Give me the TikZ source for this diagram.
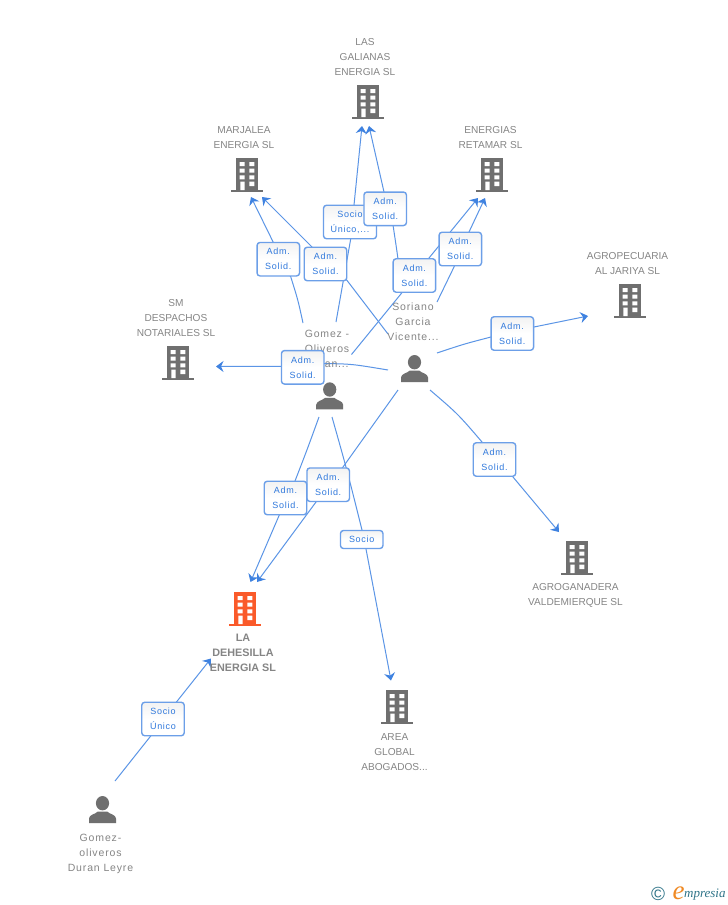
\documentclass[tikz,border=0pt]{standalone}
\usepackage{fontspec}
\setmainfont{Liberation Sans}
\newfontfamily\boxfont[LetterSpace=8]{Liberation Sans}
\newfontfamily\mixfont[LetterSpace=8]{Liberation Sans}
\newfontfamily\logofont{Liberation Serif}
\usetikzlibrary{arrows.meta}
\pgfdeclarelayer{bg}
\pgfsetlayers{bg,main}
\definecolor{iconGrey}{HTML}{6F6F6F}
\definecolor{iconOrange}{HTML}{FA5A2A}
\definecolor{txtGrey}{HTML}{858585}
\definecolor{linkBlue}{HTML}{5B95E6}
\definecolor{tipBlue}{HTML}{3F82E0}
\definecolor{boxEdge}{HTML}{6C9FE8}
\definecolor{boxText}{HTML}{2F78DC}
\definecolor{logoTeal}{HTML}{2F7488}
\definecolor{logoOrange}{HTML}{F08A24}
\tikzset{
  iconspot/.style={inner sep=0pt,outer sep=0pt},
  caption/.style={inner sep=0pt,align=center,text=txtGrey,font=\fontsize{10.1}{15}\selectfont},
  mixcaption/.style={caption,font=\mixfont\fontsize{10.5}{15}\selectfont},
  boldcaption/.style={caption,font=\bfseries\fontsize{10.8}{15}\selectfont},
  tag/.style={draw=boxEdge,line width=1.4pt,rounded corners=3pt,top color=black!5,bottom color=white,middle color=white,
     inner sep=0pt,align=center,text=boxText,minimum width=42.5pt,font=\boxfont\fontsize{9}{15}\selectfont},
  tagtwo/.style={tag,minimum height=33.5pt},
  tagone/.style={tag,minimum height=18pt},
  conn/.style={draw=linkBlue,line width=1pt,-{Stealth[length=7.5pt,width=11pt,inset=2.5pt,color=tipBlue,fill=tipBlue]}},
}
\newcommand{\bldg}[4]{%
  \node[iconspot,minimum width=32pt,minimum height=34pt] (#1) at (#2,#3+17) {};
  \begin{scope}[shift={(#2,#3)}]
    \fill[#4] (-11,0) rectangle (11,32);
    \fill[#4] (-16,31.5) rectangle (16,34);
    \fill[white] (-7.3,4) rectangle (-2.3,8) (2.3,4) rectangle (7.3,8)
      (-7.3,10.7) rectangle (-2.3,14.7) (2.3,10.7) rectangle (7.3,14.7)
      (-7.3,17.3) rectangle (-2.3,21.3) (2.3,17.3) rectangle (7.3,21.3)
      (-6.6,23.7) rectangle (-2.3,32) (2.3,23.7) rectangle (7.3,28);
  \end{scope}}
\newcommand{\persona}[3]{%
  \node[iconspot,minimum width=27pt,minimum height=27pt] (#1) at (#2,#3+13.5) {};
  \begin{scope}[shift={(#2,#3)}]
    \fill[iconGrey] (0,7.2) ellipse (6.6 and 7.2);
    \fill[iconGrey] (-13.5,27) -- (-13.5,22.5) .. controls (-13,18.5) and (-8,18.5) .. (-4.5,15.5)
      -- (4.5,15.5) .. controls (8,18.5) and (13,18.5) .. (13.5,22.5) -- (13.5,27) -- cycle;
  \end{scope}}
% free end, bend, where the line enters the box, box, where it leaves, tip
\newcommand{\link}[6]{\draw[conn] (#1) .. controls (#2) .. (#3) -- (#4.center) -- (#5) -- (#6);}
\begin{document}
\begin{tikzpicture}[x=1pt,y=-1pt]
\useasboundingbox (0,0) rectangle (728,905);
% icons
\bldg{las}{368}{85}{iconGrey}
\bldg{mar}{247}{158}{iconGrey}
\bldg{ret}{492}{158}{iconGrey}
\bldg{agp}{630}{284}{iconGrey}
\bldg{smd}{178}{346}{iconGrey}
\bldg{deh}{245}{592}{iconOrange}
\bldg{are}{397}{690}{iconGrey}
\bldg{agg}{577}{541}{iconGrey}
\persona{gom}{329.7}{382.3}
\persona{sor}{414.5}{355}
\persona{ley}{102.5}{796}
% captions
\node[caption] (tlas) at (365,57) {LAS\\GALIANAS\\ENERGIA SL};
\node[caption] (tmar) at (244,137.5) {MARJALEA\\ENERGIA SL};
\node[caption] (tret) at (490.5,137.5) {ENERGIAS\\RETAMAR SL};
\node[caption] (tagp) at (627.5,263.5) {AGROPECUARIA\\AL JARIYA SL};
\node[caption] (tsmd) at (176,318) {SM\\DESPACHOS\\NOTARIALES SL};
\node[mixcaption] (tgom) at (327,349) {Gomez -\\Oliveros\\Duran...};
\node[mixcaption] (tsor) at (413,322) {Soriano\\Garcia\\Vicente...};
\node[caption] (tagg) at (575.5,595.5) {AGROGANADERA\\VALDEMIERQUE SL};
\node[boldcaption] (tdeh) at (243,653) {LA\\DEHESILLA\\ENERGIA SL};
\node[caption] (tare) at (394.5,752) {AREA\\GLOBAL\\ABOGADOS...};
\node[mixcaption] (tley) at (100.5,853.5) {Gomez-\\oliveros\\Duran Leyre};
% labels
\node[tagtwo] (b1) at (278.3,259.2) {Adm.\\Solid.};
\node[tagtwo] (b2) at (325.5,264) {Adm.\\Solid.};
\node[tag,minimum width=53pt,minimum height=33.5pt] (b3) at (350,222) {Socio\\Único,...};
\node[tagtwo] (b4) at (385.2,208.8) {Adm.\\Solid.};
\node[tagtwo] (b5) at (414.4,275.5) {Adm.\\Solid.};
\node[tagtwo] (b6) at (460.3,249) {Adm.\\Solid.};
\node[tagtwo] (b7) at (302.7,367.3) {Adm.\\Solid.};
\node[tagtwo] (b8) at (512.3,333.5) {Adm.\\Solid.};
\node[tagtwo] (b9) at (494.5,459.5) {Adm.\\Solid.};
\node[tagtwo] (b11) at (328.2,484.7) {Adm.\\Solid.};
\node[tagtwo] (b10) at (285.5,498) {Adm.\\Solid.};
\node[tagone] (b12) at (361.7,539.5) {Socio};
\node[tagtwo] (b13) at (163,719) {Socio\\Único};
% free ends
\coordinate (gomA) at (303,323);
\coordinate (gomB) at (336,322);
\coordinate (gomC) at (351.5,354.5);
\coordinate (gomD) at (319,417);
\coordinate (gomE) at (332,417);
\coordinate (sorA) at (388,334);
\coordinate (sorB) at (401,285);
\coordinate (sorC) at (437,302);
\coordinate (sorD) at (388,370);
\coordinate (sorE) at (437,353);
\coordinate (sorF) at (430,390);
\coordinate (sorG) at (398,390);
\coordinate (leyA) at (115,781);
\coordinate (marA) at (251,197);
\coordinate (marB) at (262,197);
\coordinate (lasA) at (362,126);
\coordinate (lasB) at (369,126);
\coordinate (retA) at (478,198);
\coordinate (retB) at (485,198);
\coordinate (smdA) at (216,366.5);
\coordinate (agpA) at (588,316);
\coordinate (aggA) at (559,532);
\coordinate (dehA) at (250.5,582);
\coordinate (dehB) at (257,582);
\coordinate (dehC) at (211,658.5);
\coordinate (areA) at (391,680.5);
% connectors
\begin{pgfonlayer}{bg}
\fill[white] (0,0) rectangle (728,905);
\link{gomA}{298,300}{290.7,276.7}{b1}{273,241.7}{marA}
\link{sorA}{367,307}{346.7,280}{b2}{312,247}{marB}
\link{gomB}{344,280}{350.7,239}{b3}{354,205}{lasA}
\link{sorB}{398,258}{393,225}{b4}{384,192}{lasB}
\link{gomC}{377,324}{401.7,293}{b5}{429,258}{retA}
\link{sorC}{446,285}{454,267}{b6}{469,232}{retB}
\link{sorD}{352,364}{324.5,363.5}{b7}{281,366.3}{smdA}
\link{sorE}{464,344}{491,337}{b8}{534,327}{agpA}
\link{sorF}{458,414}{482,442}{b9}{513,477}{aggA}
\link{gomD}{307,450}{295,481}{b10}{279,515.7}{dehA}
\link{sorG}{370,428}{343,467}{b11}{316,502}{dehB}
\link{gomE}{347,470}{362,530}{b12}{366,549}{areA}
\link{leyA}{133,758}{150.7,736}{b13}{176.7,701.7}{dehC}
\end{pgfonlayer}
% logo
\node[inner sep=0pt,anchor=center,text=logoTeal,font=\fontsize{19}{19}\selectfont] (logoC) at (658,894) {©};
\node[inner sep=0pt,anchor=center,text=logoOrange,font=\logofont\itshape\fontsize{27}{27}\selectfont] (logoE) at (678.5,893.5) {e};
\node[inner sep=0pt,anchor=west,text=logoTeal,font=\logofont\itshape\fontsize{13}{13}\selectfont] (logoT) at (684,895) {mpresia};
\end{tikzpicture}
\end{document}
